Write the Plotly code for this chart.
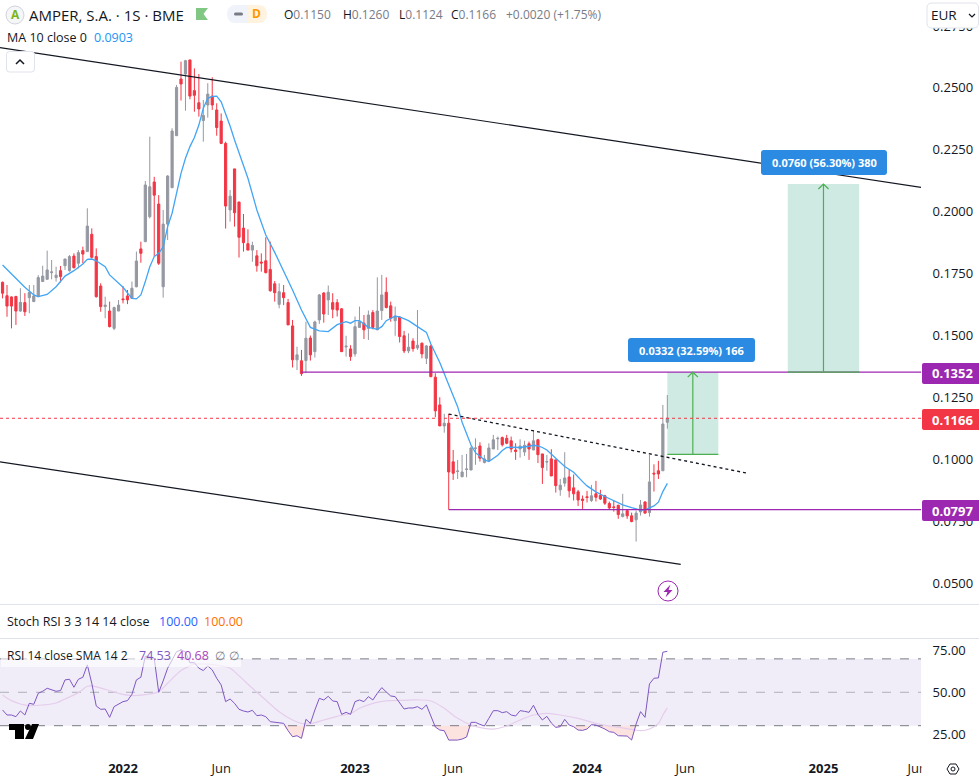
import pandas as pd
import plotly.graph_objects as go

W, H = 979, 781
dates = pd.date_range("2021-06-28", periods=150, freq="7D")

opens = [.1715,.1661,.1656,.1658,.1599,.1633,.1653,.1637,.1657,.1718,.1727,.1754,.1734,.1762,.1782,.1762,.1821,.1792,.1843,.1839,
.1909,.1819,.1700,.1617,.1599,.1529,.1599,.1648,.1660,.1650,.1697,.1850,.1879,.1980,.2120,.2031,.1697,.1950,.2097,.2307,
.2536,.2556,.2613,.2489,.2440,.2368,.2431,.2467,.2411,.2366,.2276,.2007,.2173,.2039,.1934,.1871,.1845,.1822,.1797,.1802,
.1767,.1709,.1626,.1673,.1633,.1539,.1402,.1398,.1399,.1490,.1435,.1563,.1672,.1644,.1633,.1633,.1608,.1454,.1446,.1426,
.1533,.1550,.1529,.1593,.1523,.1601,.1675,.1620,.1560,.1574,.1499,.1438,.1478,.1450,.1469,.1408,.1458,.1332,.1220,.1135,
.1146,.0990,.0951,.0930,.0959,.0957,.1044,.1054,.0987,.0995,.1042,.1083,.1088,.1085,.1075,.1038,.1042,.1030,.1063,.1038,
.1079,.1022,.0989,.1002,.0998,.0877,.0904,.0929,.0885,.0869,.0840,.0849,.0834,.0861,.0854,.0853,.0822,.0808,.0815,.0769,
.0793,.0772,.0756,.0788,.0828,.0785,.0944,.0954,.0954,.1150]
highs = [.1718,.1704,.1658,.1660,.1691,.1671,.1704,.1704,.1744,.1782,.1843,.1805,.1778,.1781,.1810,.1825,.1832,.1845,.1859,.2014,
.1933,.1852,.1711,.1657,.1637,.1617,.1644,.1700,.1684,.1718,.1839,.1879,.2124,.2303,.2141,.2067,.2007,.2148,.2337,.2512,
.2606,.2613,.2613,.2579,.2556,.2451,.2519,.2543,.2438,.2397,.2283,.2088,.2173,.2041,.1991,.1929,.1879,.1845,.1832,.1897,
.1879,.1720,.1711,.1704,.1648,.1563,.1455,.1442,.1556,.1500,.1560,.1668,.1675,.1702,.1671,.1647,.1610,.1499,.1461,.1577,
.1617,.1583,.1601,.1603,.1735,.1745,.1735,.1637,.1617,.1577,.1519,.1509,.1489,.1603,.1472,.1462,.1462,.1348,.1251,.1184,
.1184,.1038,.0998,.1018,.1022,.1052,.1085,.1069,.1018,.1065,.1099,.1092,.1092,.1099,.1092,.1065,.1081,.1075,.1072,.1115,
.1083,.1022,.1018,.1041,.0998,.0921,.1029,.0958,.0939,.0877,.0854,.0873,.0897,.0913,.0877,.0857,.0830,.0834,.0816,.0861,
.0799,.0785,.0793,.0836,.0831,.1018,.0980,.0994,.1220,.1260]
lows = [.1650,.1576,.1529,.1543,.1596,.1579,.1590,.1637,.1657,.1718,.1727,.1727,.1718,.1714,.1765,.1758,.1771,.1771,.1792,.1839,
.1812,.1653,.1596,.1570,.1533,.1522,.1599,.1630,.1627,.1648,.1695,.1794,.1879,.1973,.1819,.1785,.1653,.1886,.2097,.2307,
.2449,.2408,.2454,.2404,.2384,.2283,.2380,.2411,.2307,.2273,.1932,.1960,.1940,.1815,.1839,.1845,.1798,.1758,.1758,.1751,
.1677,.1637,.1610,.1623,.1543,.1371,.1361,.1337,.1348,.1399,.1411,.1547,.1552,.1583,.1570,.1577,.1435,.1415,.1398,.1415,
.1533,.1486,.1482,.1525,.1523,.1563,.1610,.1556,.1499,.1472,.1429,.1429,.1435,.1442,.1408,.1385,.1332,.1170,.1135,.1108,
.0797,.0917,.0921,.0928,.0928,.0957,.0978,.0991,.0984,.0990,.1042,.1038,.1052,.1061,.1028,.0998,.1007,.1014,.0998,.1038,
.0985,.0901,.0954,.0933,.0866,.0853,.0890,.0846,.0834,.0812,.0800,.0826,.0828,.0830,.0836,.0816,.0796,.0789,.0760,.0766,
.0760,.0746,.0668,.0773,.0780,.0769,.0870,.0921,.0954,.1124]
closes = [.1671,.1619,.1619,.1599,.1634,.1596,.1674,.1660,.1734,.1740,.1765,.1757,.1744,.1738,.1809,.1819,.1774,.1835,.1829,.1942,
.1816,.1657,.1617,.1623,.1536,.1613,.1623,.1645,.1644,.1691,.1801,.1832,.2108,.2101,.2067,.1792,.1950,.2144,.2326,.2502,
.2516,.2610,.2467,.2470,.2415,.2389,.2475,.2431,.2340,.2276,.2023,.2063,.1996,.1897,.1875,.1845,.1864,.1782,.1793,.1754,
.1681,.1673,.1677,.1653,.1543,.1402,.1422,.1346,.1489,.1422,.1555,.1664,.1587,.1675,.1606,.1603,.1435,.1457,.1415,.1536,
.1556,.1523,.1583,.1533,.1599,.1664,.1613,.1570,.1579,.1496,.1438,.1453,.1447,.1461,.1426,.1458,.1334,.1196,.1135,.1146,
.0949,.0944,.0953,.0949,.0961,.1046,.1046,.1005,.1002,.1046,.1079,.1085,.1059,.1065,.1042,.1032,.1054,.1057,.1042,.1075,
.1019,.0967,.0991,.0933,.0894,.0896,.0925,.0873,.0861,.0836,.0834,.0846,.0853,.0847,.0840,.0823,.0804,.0806,.0777,.0780,
.0772,.0749,.0783,.0816,.0783,.0909,.0941,.0941,.1143,.1166]

ma_idx = [0,1,3,5,7,8,10,12,14,16,18,19,20,21,23,24,27,29,30,31,32,33,34,35,36,37,38,39,40,41,42,43,44,45,46,47,48,49,50,51,52,53,55,57,59,61,
63,65,67,68,69,71,73,75,76,77,78,79,80,82,84,85,86,88,89,91,93,95,96,98,100,102,103,104,105,106,107,108,109,
110,111,112,113,114,116,118,119,120,121,122,123,124,126,128,129,130,131,133,135,137,139,141,143,144,145,146,147,148,149]
ma_val = [.1785,.1767,.1728,.1695,.1664,.1657,.1666,.1697,.1740,.1762,.1789,.1808,.1809,.1802,.1778,.1745,.1695,.1650,.1648,.1664,.1718,.1778,.1819,.1832,.1858,.1940,.1994,.2081,.2155,.2216,.2263,.2300,.2350,.2418,.2458,.2466,.2467,.2444,.2397,.2346,.2290,.2238,.2135,.2007,.1906,.1836,
.1762,.1684,.1603,.1567,.1533,.1519,.1516,.1544,.1550,.1556,.1550,.1560,.1560,.1533,.1525,.1536,.1560,.1578,.1575,.1560,.1536,.1513,.1466,.1391,.1301,.1213,.1150,.1103,.1058,.1027,.1011,.0998,.0991,
.1005,.1017,.1036,.1048,.1049,.1048,.1053,.1057,.1054,.1048,.1038,.1021,.1002,.0971,.0948,.0928,.0910,.0893,.0869,.0850,.0832,.0816,.0805,.0795,.0796,.0803,.0812,.0827,.0870,.0903]

rsi = [39.4,36.4,36.4,35.4,38.8,36.4,43.4,42.8,49.4,50.6,52.4,51.4,50.6,51.0,57.4,57.8,53.0,57.8,59.0,66.4,
55.4,41.8,39.8,40.0,35.0,41.4,43.0,44.4,45.0,48.8,57.4,59.0,71.7,71.3,70.3,50.0,56.8,64.4,69.3,74.3,
75.3,74.3,67.7,67.7,64.4,63.0,65.8,63.4,58.4,54.4,44.4,46.0,43.4,39.8,38.8,38.2,39.2,36.0,36.4,35.4,
32.4,32.2,32.0,31.4,27.0,23.4,24.0,22.4,33.8,31.4,39.4,46.4,45.4,47.6,44.8,44.4,36.8,38.0,36.8,44.4,
45.4,44.4,47.4,45.4,49.4,52.8,50.2,47.8,47.4,43.4,40.0,40.6,40.6,41.4,39.8,42.4,35.4,29.2,27.4,27.0,
21.4,21.2,21.4,22.0,23.2,32.0,32.0,30.8,29.8,34.4,39.0,39.0,37.8,38.4,36.4,35.8,39.0,38.6,38.0,42.2,
36.8,33.4,35.6,31.6,29.0,29.4,33.8,30.4,29.4,27.4,27.2,28.0,30.6,30.4,29.4,28.0,26.4,26.0,24.0,24.0,
23.8,21.4,31.0,38.4,35.0,55.0,58.4,58.6,74.0,74.53]
rsi_ma_idx = [0,2,4,6,9,12,14,17,19,20,23,26,29,32,35,37,40,42,43,46,49,51,53,56,59,62,65,67,69,72,75,78,80,83,86,90,93,96,99,102,105,108,110,113,116,119,122,125,129,133,137,141,143,145,147,148,149]
rsi_ma_val = [48.4,45.0,43.0,42.0,42.4,43.6,46.0,49.8,53.6,53.8,51.8,49.4,48.0,48.6,50.4,55.4,63.0,65.8,66.8,66.8,65.8,64.4,59.8,52.4,45.4,38.4,33.4,31.4,31.2,33.4,35.6,37.4,40.4,43.4,44.8,45.2,45.4,44.8,40.4,34.4,30.4,28.4,28.0,29.8,33.4,36.4,37.4,36.4,34.4,31.4,29.4,27.8,27.0,28.0,31.4,36.4,40.68]

y_ticks = [.05,.075,.10,.125,.15,.175,.20,.225,.25,.275]
rsi_ticks = [25,50,75]
x_tickvals = ["2022-01-03","2022-06-06","2023-01-02","2023-06-05","2024-01-01","2024-06-03","2025-01-06","2025-06-02"]
x_ticktext = ["<b>2022</b>","Jun","<b>2023</b>","Jun","<b>2024</b>","Jun","<b>2025</b>","Jun"]

last_price, level_hi, level_lo = .1166, .1352, .0797
x_range = ["2021-06-24", "2025-06-08"]
upper_x, upper_y = ["2021-06-21", "2025-06-09"], [.2664, .2098]
lower_x, lower_y = ["2021-06-21", "2024-05-27"], [.0991, .0576]
dot_x, dot_y = ["2023-05-29", "2024-09-09"], [.1183, .0944]

FONT = "Open Sans"
TEXT = "#131722"; GRAY = "#787b86"; PURPLE = "#9c27b0"; GREEN = "#4caf50"
RED = "#f23645"; UP = "#9598a1"; GRID = "#e0e3eb"; BLUE = "#2b8be2"

px = lambda x: x / W
py = lambda y: 1 - y / H
def path(*pts, close=True):
    s = "M " + " L ".join(f"{px(x):.5f} {py(y):.5f}" for x, y in pts)
    return s + (" Z" if close else "")

fig = go.Figure()
fig.add_trace(go.Candlestick(x=dates, open=opens, high=highs, low=lows, close=closes,
    increasing=dict(line=dict(color=UP, width=1), fillcolor=UP),
    decreasing=dict(line=dict(color=RED, width=1), fillcolor=RED), whiskerwidth=0, showlegend=False))
fig.add_trace(go.Scatter(x=dates[ma_idx], y=ma_val, mode="lines", line=dict(color="#42a5f5", width=1.3)))
fig.add_trace(go.Scatter(x=upper_x, y=upper_y, mode="lines", line=dict(color="#131722", width=1.2)))
fig.add_trace(go.Scatter(x=lower_x, y=lower_y, mode="lines", line=dict(color="#131722", width=1.2)))
fig.add_trace(go.Scatter(x=dot_x, y=dot_y, mode="lines", line=dict(color="#131722", width=1.3, dash="dot")))
fig.add_trace(go.Scatter(x=["2022-10-10", x_range[1]], y=[level_hi, level_hi], mode="lines", line=dict(color=PURPLE, width=1.3)))
fig.add_trace(go.Scatter(x=["2023-05-29", x_range[1]], y=[level_lo, level_lo], mode="lines", line=dict(color=PURPLE, width=1.3)))
fig.add_shape(type="line", xref="x domain", yref="y", x0=0, x1=1, y0=last_price, y1=last_price,
              line=dict(color=RED, width=1, dash="dot"))

# projections
for left, mid, right, low, high, w1, w2 in [
    ("2024-05-06", "2024-06-15", "2024-07-25", .1020, .1352, "2024-06-07", "2024-06-23"),
    ("2024-11-11", "2025-01-06", "2025-03-03", .1352, .2112, "2024-12-29", "2025-01-14")]:
    fig.add_shape(type="rect", x0=left, x1=right, y0=low, y1=high, xref="x", yref="y",
                  fillcolor="#cfeae3", line_width=0, layer="below")
    fig.add_trace(go.Scatter(x=[left, right], y=[low, low], mode="lines", line=dict(color=GREEN, width=1.2)))
    fig.add_trace(go.Scatter(x=[mid, mid], y=[low, high], mode="lines", line=dict(color=GREEN, width=1.2)))
    fig.add_trace(go.Scatter(x=[w1, mid, w2], y=[high - .002, high, high - .002], mode="lines", line=dict(color=GREEN, width=1.2)))

# RSI pane
fig.add_shape(type="rect", xref="x2 domain", yref="y2", x0=0, x1=1, y0=30, y1=70,
              fillcolor="rgba(126,87,194,0.11)", line_width=0, layer="below")
for lv, col in [(70, GRAY), (50, "rgba(120,123,134,0.55)"), (30, GRAY)]:
    fig.add_shape(type="line", xref="x2 domain", yref="y2", x0=0, x1=1, y0=lv, y1=lv,
                  line=dict(color=col, width=1, dash="dash"), layer="below")
fig.add_trace(go.Scatter(x=dates, y=[30] * len(dates), mode="lines", line=dict(width=0), xaxis="x2", yaxis="y2"))
fig.add_trace(go.Scatter(x=dates, y=[min(v, 30) for v in rsi], mode="lines", line=dict(width=0), fill="tonexty",
                         fillcolor="rgba(242,90,69,0.17)", xaxis="x2", yaxis="y2"))
fig.add_trace(go.Scatter(x=dates[rsi_ma_idx], y=rsi_ma_val, mode="lines", line=dict(color="#e5cdec", width=1.2, shape="spline"),
                         xaxis="x2", yaxis="y2"))
fig.add_trace(go.Scatter(x=dates, y=rsi, mode="lines", line=dict(color="#7e57c2", width=1), xaxis="x2", yaxis="y2"))

notes = []
def note(x, y, text, color=TEXT, size=13, anchor="left", **kw):
    notes.append(dict(x=px(x), y=py(y), xref="paper", yref="paper", text=text, showarrow=False,
                      xanchor=anchor, yanchor="middle", font=dict(color=color, size=size, family=FONT), **kw))

note(27, 15, "AMPER, S.A. · 1S · BME", size=15)
for x, lab, val in [(282, "O", "0.1150"), (341, "H", "0.1260"), (397, "L", "0.1124"), (449, "C", "0.1166")]:
    note(x, 15, f'<span style="color:{TEXT}">{lab}</span>{val}', color=GRAY, size=12)
note(504, 15, "+0.0020 (+1.75%)", color=GRAY, size=12)
note(5, 38, "MA 10 close 0", size=12.5)
note(92, 38, "0.0903", color="#2196f3", size=12.5)
note(5, 621, "Stoch RSI 3 3 14 14 close", size=12.5)
note(157, 621, "100.00", color="#2962ff", size=12.5)
note(202, 621, "100.00", color="#ff6d00", size=12.5)
note(5, 655, "RSI 14 close SMA 14 2", size=12)
note(137, 655, "74.53", color="#7e57c2", size=12.5)
note(175, 655, "40.68", color="#ab47bc", size=12.5)
note(213, 655, "∅", color=GRAY, size=12)
note(227, 655, "∅", color=GRAY, size=12)
note(15, 15, "<b>A</b>", color="#7cb518", size=12, anchor="center")
note(256, 14, "<b>D</b>", color="#ff9800", size=12, anchor="center")
note(691.5, 350, "<b>0.0332 (32.59%) 166</b>", color="white", size=11, anchor="center")
note(824, 162.5, "<b>0.0760 (56.30%) 380</b>", color="white", size=11, anchor="center")
note(952.5, 373, "<b>0.1352</b>", color="white", size=13, anchor="center")
note(952.5, 419.5, "<b>0.1166</b>", color="white", size=13, anchor="center")
note(952.5, 510.5, "<b>0.0797</b>", color="white", size=13, anchor="center")
note(929, 15, "EUR", size=13.5)

def box(x0, y0, x1, y1, fill, line=None, layer="above", kind="rect"):
    fig.add_shape(type=kind, xref="paper", yref="paper", x0=px(x0), x1=px(x1), y0=py(y1), y1=py(y0),
                  fillcolor=fill, line=dict(color=line or fill, width=1 if line else 0), layer=layer)
def poly(*pts, fill=None, line=None, close=True, width=1.2):
    fig.add_shape(type="path", xref="paper", yref="paper", path=path(*pts, close=close),
                  fillcolor=fill or "rgba(0,0,0,0)", line=dict(color=line or "rgba(0,0,0,0)", width=width), layer="above")
def rbox(x0, y0, x1, y1, fill, line=None, r=3, left=True, right=True):
    P = lambda x, y: f"{px(x):.5f} {py(y):.5f}"
    rl, rr = r if left else 0, r if right else 0
    d = (f"M {P(x0 + rl, y0)} L {P(x1 - rr, y0)} Q {P(x1, y0)} {P(x1, y0 + rr)} L {P(x1, y1 - rr)} "
         f"Q {P(x1, y1)} {P(x1 - rr, y1)} L {P(x0 + rl, y1)} Q {P(x0, y1)} {P(x0, y1 - rl)} "
         f"L {P(x0, y0 + rl)} Q {P(x0, y0)} {P(x0 + rl, y0)} Z")
    fig.add_shape(type="path", xref="paper", yref="paper", path=d, fillcolor=fill,
                  line=dict(color=line or fill, width=1 if line else 0), layer="above")

# pane separators
for yy in (604.5, 638.5):
    fig.add_shape(type="line", xref="paper", yref="paper", x0=0, x1=1, y0=py(yy), y1=py(yy), line=dict(color=GRID, width=1), layer="above")
box(1, 650, 241, 667, "rgba(255,255,255,0.6)")
# axis tags
rbox(628, 338, 755, 362, BLUE); rbox(761, 150, 887, 175, BLUE)
rbox(922, 363, 979, 384, PURPLE, right=False, r=2); rbox(922, 409, 979, 430, RED, right=False, r=2); rbox(922, 500, 979, 521, PURPLE, right=False, r=2)
# currency button, clipped tick
rbox(927, 3, 978.5, 28, "white", GRID, r=5)
poly((969, 14), (972, 17), (975, 14), close=False, line="#131722", width=1.2)
box(921.5, 755, 979, 781, "white")
# header icons
box(6, 6, 24, 24, "#f5f6f8", "#d1d4dc", kind="circle")
poly((196, 8), (208, 8), (203.5, 14), (208, 20), (196, 20), fill="#81c784")
rbox(227, 5, 248, 23, "#f0f3fa", r=9, right=False); rbox(248, 5, 267, 23, "#fff3e0", r=9, left=False)
rbox(234, 12.5, 243, 15.5, "#787b86", r=1.5)
rbox(6.5, 51.5, 34.5, 72, "white", GRID, r=3)
poly((16, 64), (20, 60), (24, 64), close=False, line="#131722", width=1.5)
# bolt
box(658, 581, 678, 601, "white", PURPLE, kind="circle")
poly((670.5, 584.5), (663.5, 592), (667.5, 592), (665.5, 597.5), (672.5, 590), (668.5, 590), fill=PURPLE)
# gear
poly((947, 769), (950, 764), (956, 764), (959, 769), (956, 774), (950, 774), line="#131722", width=1)
box(951, 767, 955, 771, "rgba(0,0,0,0)", "#131722", kind="circle")
# TradingView mark
poly((9, 724), (24, 724), (24, 739), (15, 739), (15, 730), (9, 730), fill="#000000")
box(25, 724, 31, 730, "#000000", kind="circle")
poly((32, 724), (39, 724), (33, 739), (25, 739), fill="#000000")

axis_font = dict(color="#131722", size=13, family=FONT)
fig.update_layout(
    width=W, height=H, margin=dict(l=0, r=0, t=0, b=0), showlegend=False,
    paper_bgcolor="white", plot_bgcolor="white", boxgap=0.3, annotations=notes,
    xaxis=dict(domain=[0, 921 / W], range=x_range, type="date", rangeslider_visible=False, automargin=False,
               showticklabels=False, showgrid=False, zeroline=False, anchor="y", ticks=""),
    xaxis2=dict(domain=[0, 921 / W], range=x_range, type="date", matches="x", anchor="y2", tickmode="array", automargin=False,
                tickvals=x_tickvals, ticktext=x_ticktext, showgrid=False, zeroline=False,
                ticks="outside", ticklen=5, tickcolor="rgba(0,0,0,0)", tickfont=axis_font),
    yaxis=dict(domain=[1 - 604 / H, 1], range=[.0416, .2855], side="right", anchor="x", tickmode="array", automargin=False,
               tickvals=y_ticks, ticktext=[f"{v:.4f}" for v in y_ticks], showgrid=False, zeroline=False,
               ticks="outside", ticklen=8, tickcolor="rgba(0,0,0,0)", tickfont=axis_font),
    yaxis2=dict(domain=[1 - 751 / H, 1 - 639 / H], range=[14.85, 81.9], side="right", anchor="x2", tickmode="array", automargin=False,
                tickvals=rsi_ticks, ticktext=[f"{v:.2f}" for v in rsi_ticks], showgrid=False, zeroline=False,
                ticks="outside", ticklen=8, tickcolor="rgba(0,0,0,0)", tickfont=axis_font),
)
fig.update_traces(hoverinfo="skip", selector=dict(type="scatter"))
fig.write_html("out.html", config={"responsive": False, "displayModeBar": False},
               default_width="979px", default_height="781px",
               post_script="document.body.style.margin='0';document.documentElement.style.overflow='hidden';")
